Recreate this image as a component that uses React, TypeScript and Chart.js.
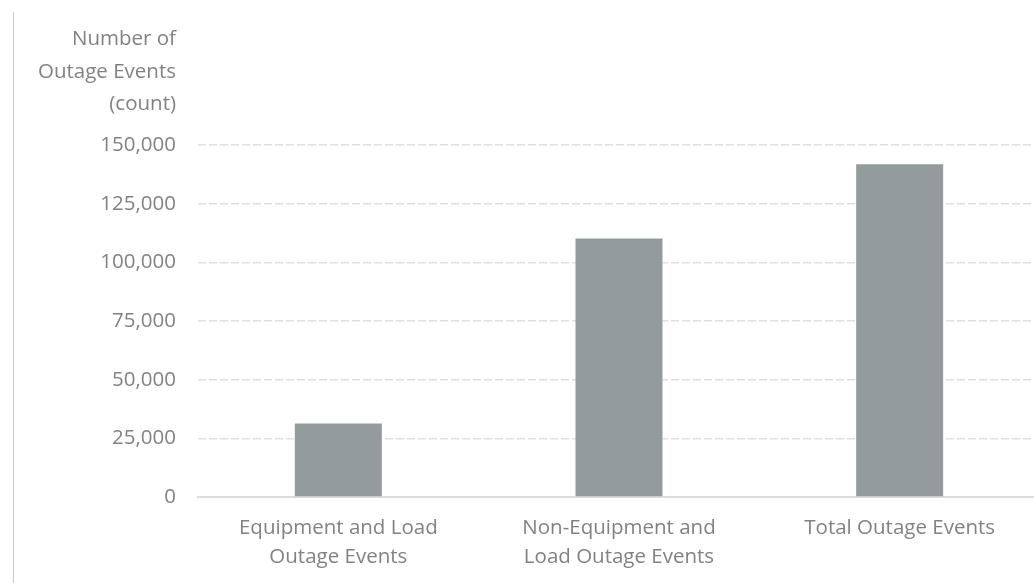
import React, { useEffect, useRef } from "react";
import { Chart, registerables } from "chart.js";

Chart.register(...registerables);

const categories: (string | string[])[] = [
  ["Equipment and Load", "Outage Events"],
  ["Non-Equipment and", "Load Outage Events"],
  "Total Outage Events",
];
const outageCounts: number[] = [31300, 110200, 141800];
const yAxisTitleLines: string[] = ["Number of", "Outage Events", "(count)"];
const yMin = 0;
const yMax = 150000;
const yStep = 25000;

const FONT = "'Open Sans', 'Noto Sans', sans-serif";
const TEXT = "#828282";
const FONT_SIZE = 20.5;

const titlePlugin = {
  id: "yTitleBlock",
  afterDraw(chart: any) {
    const ctx = chart.ctx;
    const y = chart.scales.y;
    const top = chart.chartArea.top;
    ctx.save();
    ctx.font = `${FONT_SIZE}px ${FONT}`;
    ctx.fillStyle = TEXT;
    ctx.textAlign = "right";
    ctx.textBaseline = "alphabetic";
    const x = y.right - 22;
    const offsets = [100, 67, 35];
    yAxisTitleLines.forEach((line, i) => {
      ctx.fillText(line, x, top - offsets[i]);
    });
    ctx.restore();
  },
};

export default function App() {
  const ref = useRef<HTMLCanvasElement | null>(null);

  useEffect(() => {
    if (!ref.current) return;
    const chart = new Chart(ref.current, {
      type: "bar",
      data: {
        labels: categories,
        datasets: [
          {
            data: outageCounts,
            backgroundColor: "#949b9d",
            barPercentage: 0.31,
            categoryPercentage: 1,
          },
        ],
      },
      plugins: [titlePlugin],
      options: {
        animation: false,
        responsive: true,
        maintainAspectRatio: false,
        layout: { padding: { top: 145, right: 2, left: 0, bottom: 0 } },
        plugins: {
          legend: { display: false },
          tooltip: { enabled: false },
          title: { display: false },
        },
        scales: {
          x: {
            afterFit: (scale: any) => {
              scale.height = 86;
            },
            grid: { display: false, drawTicks: false },
            border: { display: true, color: "#dcdcdc", width: 2 },
            ticks: {
              color: TEXT,
              font: { family: FONT, size: FONT_SIZE, lineHeight: 1.45 },
              padding: 16,
              maxRotation: 0,
              autoSkip: false,
            },
          },
          y: {
            min: yMin,
            max: yMax,
            afterFit: (scale: any) => {
              scale.width = 198;
            },
            grid: {
              drawTicks: false,
              color: (c: any) =>
                c.tick && c.tick.value === 0 ? "rgba(0,0,0,0)" : "#dfdfdf",
              lineWidth: 1.5,
            },
            border: { display: false, dash: [8, 3] },
            ticks: {
              stepSize: yStep,
              color: TEXT,
              padding: 22,
              font: { family: FONT, size: FONT_SIZE },
              callback: (v: any) => Number(v).toLocaleString("en-US"),
            },
          },
        },
      },
    });
    return () => chart.destroy();
  }, []);

  return (
    <div style={{ position: "fixed", left: 0, top: 0, width: 1034, height: 583, overflow: "hidden", background: "#fff" }}>
      <div style={{ position: "absolute", left: 13, top: 12, width: 1, height: 571, background: "#c8c8c8" }} />
      <div style={{ position: "absolute", left: 0, top: 0, width: 1042, height: 583 }}>
        <canvas ref={ref} />
      </div>
    </div>
  );
}
